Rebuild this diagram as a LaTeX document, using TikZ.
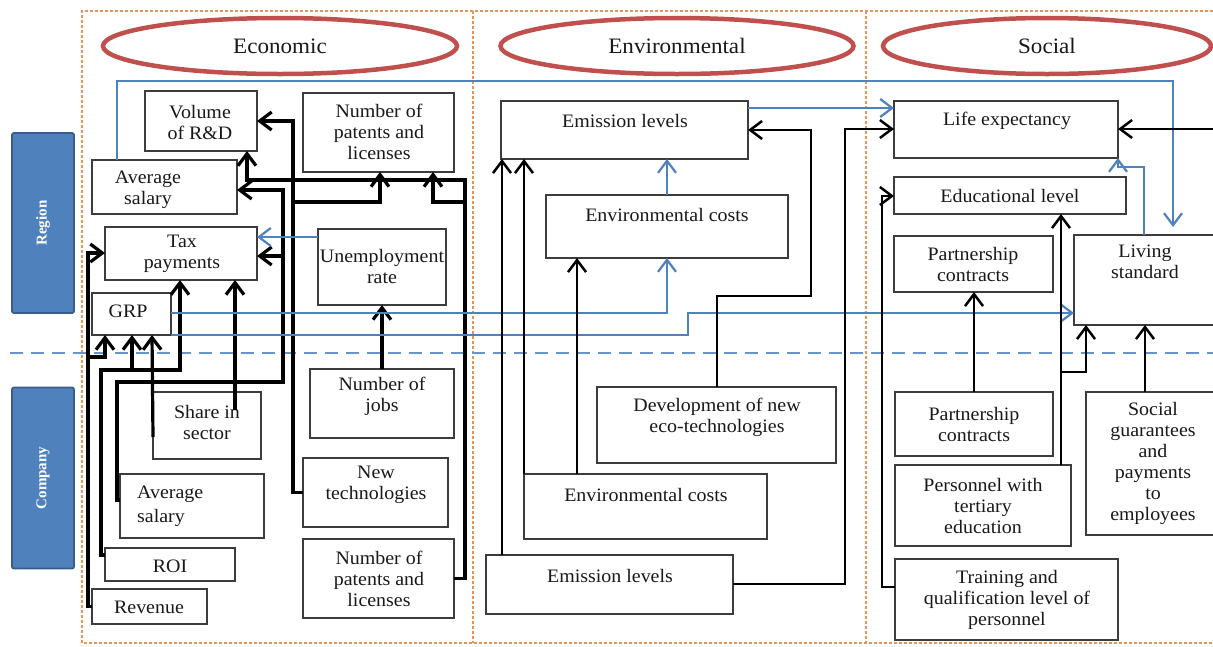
\documentclass[tikz,border=0pt]{standalone}
\usepackage{fontspec}
\setmainfont{Liberation Serif}
\newfontfamily\bxf{Liberation Serif}[FakeStretch=1.05]
\usetikzlibrary{arrows.meta,shapes.geometric}
\definecolor{ublue}{RGB}{79,129,189}
\definecolor{dblue}{RGB}{56,93,138}
\definecolor{ered}{RGB}{192,80,77}
\definecolor{frc}{RGB}{228,150,90}
\definecolor{bord}{RGB}{60,60,60}
\definecolor{txc}{RGB}{25,25,25}
\tikzset{
 boxs/.style={draw=bord, line width=1.5pt, fill=white, inner sep=0pt, outer sep=0pt},
 txt/.style={font=\bxf\fontsize{19}{21}\selectfont, text=txc, align=center, inner sep=0pt},
 ttl/.style={ellipse, draw=ered, line width=4.5pt, fill=white, inner sep=0pt,
   font=\bxf\fontsize{22}{24}\selectfont, text=txc},
 side/.style={draw=dblue, line width=1.8pt, fill=ublue, rounded corners=2pt, text=white,
   font=\bfseries\fontsize{15}{17}\selectfont, rotate=90, inner sep=0pt},
 tipb/.style={-{Straight Barb[length=12pt,width=18pt]}},
 ebl/.style={tipb, line width=3.2pt, black},
 kbl/.style={tipb, line width=2.5pt, black},
 bbl/.style={tipb, line width=2.2pt, ublue},
 frm/.style={draw=frc, line width=1.3pt, dash pattern=on 3pt off 2pt},
 sepl/.style={draw=ublue!85, line width=2pt, dash pattern=on 13pt off 8pt},
}
\newcommand\bx[8]{%
 \pgfmathsetmacro\bxw{#4-#2}\pgfmathsetmacro\bxh{#5-#3}%
 \pgfmathsetmacro\bxcx{(#2+#4)/2}\pgfmathsetmacro\bxcy{(#3+#5)/2}%
 \node[boxs,minimum width=\bxw pt,minimum height=\bxh pt] (#1) at (\bxcx,\bxcy) {};%
 \node[txt] (#1t) at (#6,#7) {#8};}
\begin{document}
\begin{tikzpicture}[x=1pt,y=-1pt]
\useasboundingbox (0,0) rectangle (1213,646);
\fill[white] (0,0) rectangle (1213,646);
% frame
\draw[frm] (1218,11) -- (82,11) -- (82,643) -- (1218,643);
\draw[frm] (473,11) -- (473,643);
\draw[frm] (866,11) -- (866,643);
% titles
\node[ttl, minimum width=354pt, minimum height=56pt] (eco) at (280,46) {Economic};
\node[ttl, minimum width=353pt, minimum height=56pt] (env) at (677,46) {Environmental};
\node[ttl, minimum width=328pt, minimum height=56pt] (soc0) at (1047,46) {Social};
% side labels
\node[side, minimum width=180pt, minimum height=62pt] (reg) at (43,223) {Region};
\node[side, minimum width=181pt, minimum height=62pt] (comp) at (43,478) {Company};
% separator
\draw[sepl] (10,353) -- (1213,353);
% economic boxes
\bx{vol}{145}{91}{257}{151}{200}{122}{Volume\\of R\&D}
\bx{nopR}{303}{93}{454}{172}{379}{132}{Number of\\patents and\\licenses}
\bx{avgR}{92}{160}{237}{214}{148}{190}{Average\\salary}
\bx{tax}{105}{227}{257}{280}{182}{254}{Tax\\payments}
\bx{unemp}{318}{229}{446}{305}{382}{266}{Unemployment\\rate}
\bx{grp}{92}{293}{171}{335}{128}{311}{GRP}
\bx{share}{153}{392}{261}{459}{207}{422}{Share in\\sector}
\bx{avgC}{120}{474}{264}{538}{190}{506}{}
\node[txt, align=left, anchor=west, font=\bxf\fontsize{19}{24}\selectfont] (avgCt) at (137,506) {Average\\salary};
\bx{roi}{105}{548}{235}{581}{170}{566}{ROI}
\bx{rev}{92}{589}{207}{624}{149}{607}{Revenue}
\bx{jobs}{310}{369}{454}{438}{382}{396}{Number of\\jobs}
\bx{newt}{303}{458}{448}{527}{376}{485}{New\\technologies}
\bx{nopC}{303}{539}{454}{618}{379}{579}{Number of\\patents and\\licenses}
% environmental boxes
\bx{emisR}{501}{101}{748}{159}{625}{121}{Emission levels}
\bx{envcR}{546}{195}{788}{258}{667}{215}{Environmental costs}
\bx{dev}{597}{387}{836}{463}{717}{417}{Development of new\\eco-technologies}
\bx{envcC}{524}{474}{767}{539}{646}{495}{Environmental costs}
\bx{emisC}{486}{555}{733}{614}{610}{576}{Emission levels}
% social boxes
\bx{life}{894}{101}{1118}{158}{1007}{121}{Life expectancy}
\bx{ed}{894}{177}{1126}{214}{1010}{196}{Educational level}
\bx{partR}{894}{236}{1053}{292}{973}{264}{Partnership\\contracts}
\bx{living}{1074}{235}{1222}{325}{1145}{262}{Living\\standard}
\bx{partC}{895}{392}{1053}{456}{974}{424}{Partnership\\contracts}
\bx{pers}{895}{465}{1071}{546}{983}{506}{Personnel with\\tertiary\\education}
\bx{train}{895}{559}{1118}{640}{1007}{600}{Training and\\qualification level of\\personnel}
\bx{soc}{1086}{392}{1222}{535}{1153}{463}{Social\\guarantees\\and\\payments\\to\\employees}
% junctions
\coordinate (j1) at (293,202);
\coordinate (j2) at (465,202);
\coordinate (j3) at (283,256);
\coordinate (j5) at (132,370);
\coordinate (j6) at (88,357);
\coordinate (j7) at (1061,372);
\coordinate (redge) at (1218,129);
% economic connectors
\draw[ebl] (newt.west) -| (j1) |- (vol.east |- 0,121);
\draw[ebl] (j1) -| (nopR.south -| 380,0);
\draw[ebl] (nopC.east) -| (j2) -- (465,180) -| (vol.south -| 247,0);
\draw[ebl] (j2) -| (nopR.south -| 433,0);
\draw[ebl] (avgC.west |- 0,500) -- (117,500) -- (117,382) -- (283,382) -- (283,190) -- (avgR.east |- 0,190);
\draw[ebl] (j3) -- (tax.east |- j3);
\draw[ebl] ([yshift=-18pt]share.north -| 235,0) -- (tax.south -| 235,0);
\draw[ebl] (roi.west |- 0,555) -- (101,555) -- (101,370) -- (180,370) -- (tax.south -| 180,0);
\draw[ebl] (j5) -- (grp.south -| j5);
\draw[ebl] (rev.west) -| (88,253) -- (tax.west |- 0,253);
\draw[ebl] (j6) -- (105,357) -- (grp.south -| 105,0);
\draw[ebl] (share.west |- 0,437) -- (grp.south -| 152,0);
\draw[ebl] (jobs.north) -- (unemp.south -| jobs.north);
% blue connectors
\draw[bbl, shorten >=8pt] (avgR.north -| 117,0) -- (117,81) -| (living.north -| 1173,0);
\draw[bbl] (unemp.west |- 0,237) -- (tax.east |- 0,237);
\draw[bbl] (grp.east |- 0,313) -| (envcR.south);
\draw[bbl] (envcR.north) -- (emisR.south -| envcR.north);
\draw[bbl] (emisR.east |- 0,108) -- (life.west |- 0,108);
\draw[bbl] (grp.south east) -- (688,335) -- (688,313) -- (living.west |- 0,313);
\draw[bbl] (living.north -| 1144,0) -- (1144,167) -| (life.south east);
% environmental connectors
\draw[kbl] (emisC.north -| 502,0) -- (emisR.south -| 502,0);
\draw[kbl] (envcC.north west) -- (emisR.south -| envcC.north west);
\draw[kbl] (envcC.north -| 577,0) -- (envcR.south -| 577,0);
\draw[kbl] (dev.north -| 717,0) -- (717,296) -- (811,296) -- (811,130) -- (emisR.east |- 0,130);
\draw[kbl] (emisC.east |- 0,584) -- (845,584) -- (845,129) -- (life.west |- 0,129);
% social connectors
\draw[kbl] (redge) -- (life.east |- redge);
\draw[kbl] (train.west |- 0,587) -- (882,587) -- (882,196) -- (ed.west |- 0,196);
\draw[kbl] (partC.north -| 974,0) -- (partR.south -| 974,0);
\draw[kbl] (pers.north -| 1061,0) -- (ed.south -| 1061,0);
\draw[kbl] (j7) -- (1086,372) -- (living.south -| 1086,0);
\draw[kbl] (soc.north -| 1145,0) -- (living.south -| 1145,0);
\end{tikzpicture}
\end{document}
